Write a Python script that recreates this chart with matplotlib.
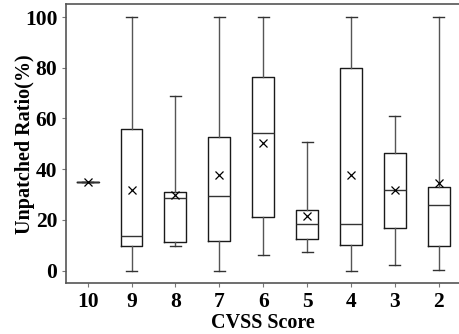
import matplotlib
matplotlib.use('Agg')
import matplotlib.pyplot as plt

# CVSS score groups and box statistics
labels = ['10', '9', '8', '7', '6', '5', '4', '3', '2']
whislo = [35.0, 0.0, 9.8, 0.0, 6.1, 7.2, 0.0, 2.2, 0.4]
q1 = [35.0, 9.5, 11.2, 11.8, 21.0, 12.4, 10.1, 16.8, 9.5]
med = [35.0, 13.7, 28.6, 29.4, 54.2, 18.3, 18.3, 31.6, 25.7]
q3 = [35.0, 55.8, 31.0, 52.8, 76.5, 23.8, 79.9, 46.2, 33.1]
whishi = [35.0, 100.0, 68.8, 100.0, 100.0, 50.8, 100.0, 61.0, 100.0]
means = [35.0, 31.8, 29.9, 37.8, 50.4, 21.7, 37.7, 31.6, 34.5]

plt.rcParams['font.family'] = ['Liberation Serif', 'DejaVu Serif']
plt.rcParams['font.weight'] = 'bold'

fig = plt.figure(figsize=(4.59, 3.34), dpi=100)
ax = fig.add_axes([0.143, 0.152, 0.861, 0.835])

stats = []
for i in range(len(labels)):
    stats.append({'label': labels[i], 'whislo': whislo[i], 'q1': q1[i], 'med': med[i],
                  'q3': q3[i], 'whishi': whishi[i], 'mean': means[i], 'fliers': []})

ax.bxp(stats, widths=0.5, showmeans=True, showfliers=False,
       boxprops=dict(color='#1a1a1a', linewidth=1),
       medianprops=dict(color='#333333', linewidth=1),
       whiskerprops=dict(color='#555555', linewidth=1),
       capprops=dict(color='#333333', linewidth=1),
       meanprops=dict(marker='x', markeredgecolor='black', markersize=6, markeredgewidth=0.9))

ax.set_xlim(0.5, 9.5)
ax.set_ylim(-5, 105)
ax.set_yticks([0, 20, 40, 60, 80, 100])

for s in ['left', 'bottom', 'top']:
    ax.spines[s].set_color('#555555')
    ax.spines[s].set_linewidth(1.2)
ax.spines['right'].set_visible(False)
ax.tick_params(axis='both', labelsize=15.5, length=3, color='#777777', pad=3)
for t in ax.get_xticklabels() + ax.get_yticklabels():
    t.set_fontweight('bold')

ax.set_xlabel('CVSS Score', fontsize=14.5, fontweight='bold', labelpad=1)
ax.set_ylabel('Unpatched Ratio(%)', fontsize=14.5, fontweight='bold', labelpad=-7)

fig.savefig('out.png', dpi=100)
